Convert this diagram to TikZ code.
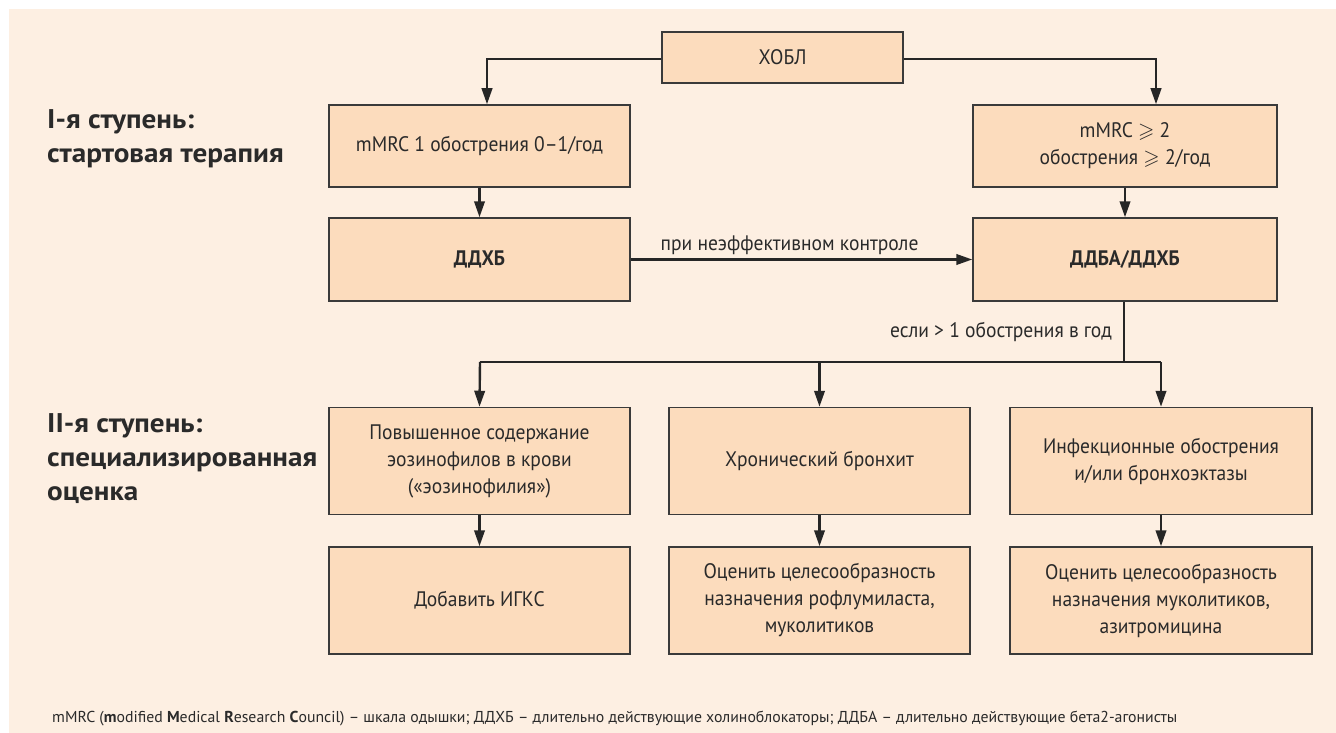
\documentclass[tikz,border=0pt]{standalone}
\usepackage{amssymb}
\usepackage{fontspec}
\setmainfont{PT Sans}
\newfontfamily\boxfont[FakeStretch=0.93]{PT Sans}
\newfontfamily\stepfont[FakeStretch=1.08]{PT Sans}
\usetikzlibrary{arrows.meta}
\definecolor{panel}{HTML}{FDEFE2}
\definecolor{boxfill}{HTML}{FCDCBD}
\definecolor{boxline}{HTML}{3A3A3A}
\definecolor{connc}{HTML}{262626}
\definecolor{txt}{HTML}{2A2A2A}
\tikzset{
  box/.style={draw=boxline, fill=boxfill, line width=1.5pt, inner sep=0pt, align=center,
    text=txt, font=\boxfont\fontsize{21}{27}\selectfont},
  boldbox/.style={box, font=\boxfont\fontsize{21}{27}\selectfont\bfseries},
  conn/.style={line width=2.4pt, draw=connc, -{Triangle[length=16pt,width=10.5pt]}},
  line/.style={line width=2.4pt, draw=connc},
  steplabel/.style={anchor=west, align=left, text=txt, font=\stepfont\fontsize{27}{34}\selectfont\bfseries, inner sep=0pt},
  lbl/.style={text=txt, font=\boxfont\fontsize{21}{25}\selectfont, inner sep=0pt}
}
\begin{document}
\begin{tikzpicture}[x=1pt,y=-1pt]
\useasboundingbox (0,0) rectangle (1336,733);
\fill[white] (0,0) rectangle (1336,733);
\fill[panel] (9,9) rectangle (1336,733);

% left labels
\node[steplabel] (s1) at (47,139) {I-я ступень:\\стартовая терапия};
\node[steplabel] (s2) at (47,458.5) {II-я ступень:\\специализированная\\оценка};

% boxes
\node[box, minimum width=241pt, minimum height=51pt] (copd) at (782.5,57.5) {ХОБЛ};
\node[box, minimum width=301pt, minimum height=82pt] (m1) at (479.5,146) {mMRC 1 обострения 0–1/год};
\node[box, minimum width=304pt, minimum height=82pt] (m2) at (1125,146) {mMRC $\geqslant$ 2\\обострения $\geqslant$ 2/год};
\node[boldbox, minimum width=301pt, minimum height=83pt] (d1) at (479.5,259.5) {ДДХБ};
\node[boldbox, minimum width=304pt, minimum height=83pt] (d2) at (1125,259.5) {ДДБА/ДДХБ};

\node[box, minimum width=301pt, minimum height=107pt] (a1) at (479.5,461) {Повышенное содержание\\эозинофилов в крови\\(«эозинофилия»)};
\node[box, minimum width=301pt, minimum height=107pt] (a2) at (819.5,461) {Хронический бронхит};
\node[box, minimum width=302pt, minimum height=107pt] (a3) at (1161,461) {Инфекционные обострения\\и/или бронхоэктазы};

\node[box, minimum width=301pt, minimum height=107pt] (b1) at (479.5,600.5) {Добавить ИГКС};
\node[box, minimum width=301pt, minimum height=107pt] (b2) at (819.5,600.5) {Оценить целесообразность\\назначения рофлумиласта,\\муколитиков};
\node[box, minimum width=302pt, minimum height=107pt] (b3) at (1161,600.5) {Оценить целесообразность\\назначения муколитиков,\\азитромицина};

% connectors
\coordinate (cl) at (487,59);
\coordinate (cr) at (1156,59);
\draw[conn] (copd.west |- cl) -- (cl) -- (cl |- m1.north);
\draw[conn] (copd.east |- cr) -- (cr) -- (cr |- m2.north);
\draw[conn] (m1) -- (d1);
\draw[conn] (m2) -- (d2);
\draw[conn] (d1) -- node[lbl, pos=0.465, anchor=base, yshift=9pt] (l1) {при неэффективном контроле} (d2);

\coordinate (br) at (1124,362);
\coordinate (bl) at (480,362);
\coordinate (bR) at (1161,362);
\draw[line] (d2.south -| br) -- node[lbl, pos=0.59, anchor=base east, xshift=-11pt] (l2) {если > 1 обострения в год} (br);
\draw[line] (bl) -- (bR);
\draw[conn] (bl) -- (a1.north);
\draw[conn] (a2.north |- bl) -- (a2.north);
\draw[conn] (bR) -- (a3.north);
\draw[conn] (a1) -- (b1);
\draw[conn] (a2) -- (b2);
\draw[conn] (a3) -- (b3);

% footnote
\node[anchor=base west, inner sep=0pt, text=txt, font=\fontsize{15.8}{18}\selectfont] (fn) at (52,722)
 {mMRC (\textbf{m}odified \textbf{M}edical \textbf{R}esearch \textbf{C}ouncil) – шкала одышки; ДДХБ – длительно действующие холиноблокаторы; ДДБА – длительно действующие бета2-агонисты};
\end{tikzpicture}
\end{document}
